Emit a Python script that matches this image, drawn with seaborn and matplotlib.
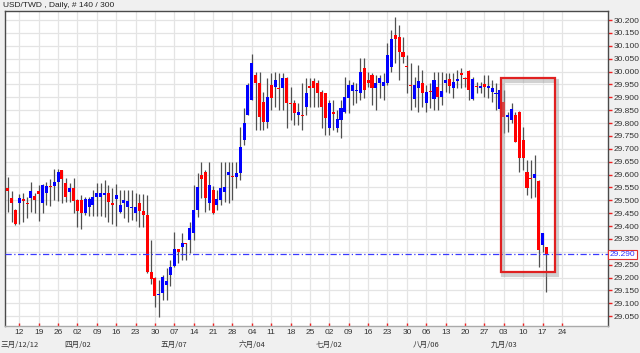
import numpy as np
import pandas as pd
import matplotlib
matplotlib.use("Agg")
import matplotlib.pyplot as plt
import matplotlib.transforms as mtransforms
from matplotlib.patches import Rectangle
import seaborn as sns

# ---------------- data ----------------
start_date = "2012-03-07"
title = "USD/TWD , Daily, # 140 / 300"
opens = [29.549, 29.510, 29.462, 29.490, 29.505, 29.490, 29.510, 29.518, 29.536, 29.490,
         29.529, 29.555, 29.555, 29.570, 29.617, 29.566, 29.531, 29.549, 29.501, 29.501,
         29.449, 29.475, 29.482, 29.514, 29.514, 29.520, 29.527, 29.490, 29.505, 29.456,
         29.490, 29.475, 29.469, 29.452, 29.488, 29.458, 29.443, 29.222, 29.197, 29.132,
         29.139, 29.171, 29.210, 29.245, 29.309, 29.320, 29.333, 29.346, 29.372, 29.462,
         29.598, 29.611, 29.488, 29.540, 29.482, 29.501, 29.533, 29.598, 29.592, 29.591,
         29.605, 29.734, 29.831, 29.889, 29.986, 29.954, 29.883, 29.805, 29.948, 29.941,
         29.935, 29.935, 29.974, 29.877, 29.877, 29.831, 29.831, 29.863, 29.944, 29.964,
         29.954, 29.922, 29.915, 29.779, 29.844, 29.779, 29.812, 29.844, 29.897, 29.925,
         29.925, 29.915, 30.012, 29.967, 29.986, 29.935, 29.954, 29.944, 29.954, 30.019,
         30.142, 30.135, 30.077, 30.021, 29.948, 29.893, 29.935, 29.954, 29.877, 29.925,
         29.893, 29.939, 29.902, 29.954, 29.971, 29.935, 29.964, 29.995, 29.974, 30.003,
         29.893, 29.944, 29.935, 29.951, 29.935, 29.919, 29.913, 29.854, 29.883, 29.824,
         29.812, 29.831, 29.844, 29.734, 29.611, 29.588, 29.585, 29.576, 29.326, 29.317]
highs = [29.591, 29.537, 29.466, 29.524, 29.528, 29.514, 29.572, 29.529, 29.559, 29.562,
         29.572, 29.581, 29.621, 29.621, 29.619, 29.585, 29.566, 29.585, 29.503, 29.520,
         29.514, 29.514, 29.540, 29.566, 29.568, 29.579, 29.559, 29.546, 29.563, 29.540,
         29.540, 29.540, 29.540, 29.527, 29.524, 29.524, 29.520, 29.346, 29.203, 29.190,
         29.210, 29.237, 29.268, 29.378, 29.310, 29.372, 29.334, 29.417, 29.559, 29.605,
         29.650, 29.617, 29.650, 29.555, 29.540, 29.650, 29.650, 29.650, 29.650, 29.650,
         29.786, 29.858, 29.954, 30.068, 29.999, 29.999, 29.922, 29.974, 29.993, 29.999,
         29.993, 29.993, 29.979, 29.941, 29.889, 29.877, 29.954, 29.974, 29.974, 29.974,
         29.967, 29.928, 29.917, 29.889, 29.889, 29.850, 29.889, 29.980, 29.967, 29.960,
         29.954, 30.051, 30.051, 29.999, 29.993, 29.986, 29.986, 29.993, 30.110, 30.161,
         30.213, 30.181, 30.135, 30.064, 30.032, 29.980, 30.025, 30.006, 29.948, 29.954,
         29.999, 29.999, 29.999, 29.993, 29.993, 29.993, 30.006, 30.012, 29.980, 30.006,
         29.980, 29.960, 29.960, 29.986, 29.986, 29.967, 29.954, 29.928, 29.928, 29.844,
         29.877, 29.844, 29.847, 29.786, 29.656, 29.656, 29.676, 29.579, 29.372, 29.320]
lows = [29.456, 29.417, 29.404, 29.408, 29.417, 29.430, 29.456, 29.449, 29.421, 29.449,
        29.482, 29.478, 29.501, 29.497, 29.490, 29.494, 29.494, 29.449, 29.395, 29.387,
        29.443, 29.440, 29.440, 29.440, 29.440, 29.436, 29.417, 29.408, 29.400, 29.449,
        29.430, 29.417, 29.423, 29.421, 29.397, 29.397, 29.217, 29.175, 29.087, 29.045,
        29.113, 29.113, 29.167, 29.242, 29.255, 29.268, 29.268, 29.296, 29.346, 29.436,
        29.509, 29.456, 29.462, 29.447, 29.462, 29.482, 29.494, 29.488, 29.501, 29.546,
        29.579, 29.715, 29.831, 29.889, 29.773, 29.773, 29.773, 29.779, 29.850, 29.863,
        29.850, 29.850, 29.779, 29.812, 29.792, 29.792, 29.773, 29.831, 29.863, 29.863,
        29.863, 29.779, 29.753, 29.753, 29.773, 29.766, 29.741, 29.838, 29.838, 29.870,
        29.877, 29.889, 29.896, 29.941, 29.870, 29.850, 29.897, 29.889, 29.948, 29.999,
        30.032, 29.967, 30.032, 29.915, 29.850, 29.863, 29.844, 29.863, 29.844, 29.857,
        29.850, 29.850, 29.870, 29.922, 29.915, 29.896, 29.935, 29.935, 29.941, 29.889,
        29.889, 29.915, 29.915, 29.902, 29.896, 29.883, 29.850, 29.844, 29.760, 29.766,
        29.801, 29.727, 29.611, 29.617, 29.520, 29.508, 29.514, 29.240, 29.300, 29.144]
closes = [29.537, 29.490, 29.408, 29.510, 29.497, 29.484, 29.537, 29.501, 29.523, 29.559,
          29.555, 29.550, 29.571, 29.611, 29.581, 29.511, 29.549, 29.498, 29.458, 29.449,
          29.505, 29.505, 29.514, 29.527, 29.529, 29.527, 29.494, 29.482, 29.520, 29.482,
          29.501, 29.498, 29.475, 29.473, 29.459, 29.443, 29.222, 29.193, 29.128, 29.136,
          29.203, 29.186, 29.240, 29.309, 29.300, 29.333, 29.330, 29.391, 29.462, 29.553,
          29.583, 29.508, 29.559, 29.449, 29.504, 29.546, 29.553, 29.611, 29.590, 29.605,
          29.708, 29.800, 29.948, 30.032, 29.954, 29.824, 29.805, 29.902, 29.896, 29.967,
          29.931, 29.974, 29.877, 29.874, 29.838, 29.844, 29.828, 29.915, 29.935, 29.935,
          29.915, 29.863, 29.818, 29.877, 29.835, 29.814, 29.857, 29.902, 29.948, 29.948,
          29.928, 29.999, 29.928, 29.954, 29.935, 29.954, 29.973, 29.960, 30.064, 30.125,
          30.125, 30.077, 30.058, 30.019, 29.944, 29.948, 29.963, 29.918, 29.922, 29.922,
          29.967, 29.902, 29.925, 29.967, 29.944, 29.960, 29.971, 29.986, 29.970, 29.928,
          29.971, 29.939, 29.944, 29.941, 29.944, 29.935, 29.915, 29.928, 29.824, 29.831,
          29.853, 29.727, 29.663, 29.663, 29.546, 29.583, 29.602, 29.307, 29.372, 29.290]
current_price = 29.290
month_labels = ["三月/12/12", "四月/02", "五月/07", "六月/04", "七月/02", "八月/06", "九月/03"]
y_ticks = [29.05, 29.10, 29.15, 29.20, 29.25, 29.30, 29.35, 29.40, 29.45, 29.50, 29.55,
           29.60, 29.65, 29.70, 29.75, 29.80, 29.85, 29.90, 29.95, 30.00, 30.05, 30.10,
           30.15, 30.20]
box_start, box_end = 127.2, 141.2
box_low, box_high = 29.221, 29.974

n = len(opens)
df = pd.DataFrame({"open": opens, "high": highs, "low": lows, "close": closes})
df["idx"] = np.arange(n)
all_dates = pd.bdate_range(start_date, periods=n + 5)
df["date"] = all_dates[:n]
df["up"] = df["close"] >= df["open"]

# ---------------- style ----------------
sns.set_theme(style="white")
plt.rcParams["font.family"] = ["Liberation Sans", "DejaVu Sans"]

W, H = 640, 353
fig = plt.figure(figsize=(W / 100, H / 100), dpi=100, facecolor="#f0f0f0")
L, R, T, B = 5, 608, 11, 325.5
ax = fig.add_axes([L / W, 1 - B / H, (R - L) / W, (B - T) / H])
ax.set_facecolor("white")

mondays = [i for i, d in enumerate(all_dates) if d.weekday() == 0]
ax.set_xticks(mondays)
ax.set_xticklabels([])
ax.set_xlim(-0.7, 154.9)
ax.set_ylim(29.0136, 30.235)
ax.set_yticks(y_ticks)
ax.yaxis.tick_right()
ylabels = ["" if abs(v - current_price) < 0.02 else f"{v:.3f}" for v in y_ticks]
ax.set_yticklabels(ylabels, fontsize=6)
ax.tick_params(axis="y", colors="#ee2222", length=3, width=1, pad=1, labelcolor="#333333")
ax.tick_params(axis="x", colors="#ee2222", length=2, width=1, direction="in", bottom=True)
ax.grid(True, color="#e4e4e4", linewidth=0.9)
ax.set_axisbelow(True)
for s in ["left", "top", "right"]:
    ax.spines[s].set_color("#4a4a4a")
    ax.spines[s].set_linewidth(1.0)
ax.spines["bottom"].set_color("#aaaaaa")
ax.spines["bottom"].set_linewidth(1.0)

# wicks
ax.vlines(df["idx"], df["low"], df["high"], color="#505050", linewidth=0.9, zorder=2)
# bodies
body_bottom = np.minimum(df["open"], df["close"])
body_h = np.maximum(np.abs(df["close"] - df["open"]), 0.003)
colors = np.where(df["up"], "#0000ff", "#ff0000")
ax.bar(df["idx"], body_h, bottom=body_bottom, width=0.78, color=colors, linewidth=0, zorder=3)

# current price line
ax.axhline(current_price, color="#3a3aff", linewidth=0.9, linestyle=(0, (5, 2, 1, 2)), zorder=4)

# annotation box with soft shadow
shadow_tr = ax.transData + mtransforms.ScaledTranslation(0.025, -0.025, fig.dpi_scale_trans)
shadow = Rectangle((box_start, box_low), box_end - box_start, box_high - box_low, fill=False,
                   edgecolor="#9a9a9a", alpha=0.45, linewidth=3.0, transform=shadow_tr, zorder=5)
ax.add_patch(shadow)
box = Rectangle((box_start, box_low), box_end - box_start, box_high - box_low, fill=False,
                edgecolor="#e02020", linewidth=1.6, zorder=6)
ax.add_patch(box)

# x labels
trans = mtransforms.blended_transform_factory(ax.transData, fig.transFigure)
for m in mondays:
    d = all_dates[m]
    if m <= 143:
        ax.text(m, 1 - 333 / H, f"{d.day:02d}", transform=trans, fontsize=6, color="#333333",
                ha="center", va="center", clip_on=False)
month_ticks = [mondays[0]] + [m for m in mondays if all_dates[m].day <= 7 and m != mondays[0]]
for m, lab in zip(month_ticks, month_labels):
    ax.text(m, 1 - 345 / H, lab, transform=trans, fontsize=5.5, color="#333333", ha="center",
            va="center", clip_on=False, family=["Noto Sans CJK SC", "DejaVu Sans"])

# current price tag
trans2 = mtransforms.blended_transform_factory(fig.transFigure, ax.transData)
fig.text(622.5 / W, current_price, f"{current_price:.3f}", transform=trans2, fontsize=6,
         color="#3030ff", ha="center", va="center",
         bbox=dict(boxstyle="square,pad=0.15", facecolor="white", edgecolor="#e03030", linewidth=0.8))

fig.text(3 / W, 1 - 5.5 / H, title, fontsize=6, color="#222222", ha="left", va="center")

fig.savefig("out.png", dpi=100, facecolor=fig.get_facecolor())
